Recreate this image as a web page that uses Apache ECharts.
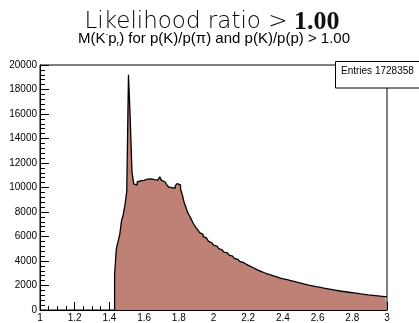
<!DOCTYPE html>
<html>
<head>
<meta charset="utf-8">
<script src="https://cdn.jsdelivr.net/npm/echarts@6/dist/echarts.min.js"></script>
<style>
  html, body { margin: 0; padding: 0; background: #fff; }
  #chart { width: 419px; height: 323px; }
</style>
</head>
<body>
<div id="chart"></div>
<script>
// Histogram binning of the invariant mass M(K-p) in GeV
const binStart = 1.43;
const binWidth = 0.01;
const xMax = 3.0;

// Entries per bin, starting at binStart
const counts = [
  2900, 5000, 5600, 6200, 7300, 7800, 8600, 9700, 19200, 15600,
  11300, 10300, 10200, 10450, 10550, 10650, 10580, 10720, 10680, 10790,
  10700, 10760, 10640, 10720, 10610, 10680, 10880, 10580, 10470, 10320,
  10230, 10060, 9980, 9900, 9960, 10150, 10320, 10210, 9880, 9420,
  8820, 8430, 8010, 7730, 7460, 7160, 6920, 6700, 6530, 6310,
  6170, 5990, 5880, 5740, 5620, 5490, 5420, 5290, 5210, 5090,
  5010, 4910, 4840, 4730, 4670, 4570, 4480, 4390, 4320, 4220,
  4140, 4040, 3970, 3890, 3820, 3730, 3670, 3580, 3530, 3450,
  3390, 3300, 3260, 3180, 3120, 3060, 3020, 2950, 2930, 2860,
  2840, 2770, 2750, 2680, 2660, 2590, 2580, 2520, 2500, 2450,
  2430, 2380, 2360, 2310, 2290, 2240, 2230, 2170, 2160, 2100,
  2090, 2030, 2020, 1970, 1960, 1910, 1910, 1860, 1850, 1800,
  1800, 1750, 1750, 1700, 1700, 1650, 1650, 1600, 1600, 1550,
  1550, 1510, 1510, 1470, 1470, 1430, 1430, 1390, 1390, 1350,
  1350, 1310, 1310, 1280, 1280, 1240, 1250, 1210, 1210, 1180,
  1180, 1150, 1150, 1120, 1130, 1090, 1100
];

const xTicks = { min: 1, max: 3, step: 0.2 };
const yTicks = { min: 0, max: 20000, step: 2000 };

const entries = 1728358;

// Step outline: one point per lower bin edge, closed at the upper range edge
const histPoints = [[binStart, 0]];
counts.forEach((c, i) => {
  histPoints.push([+(binStart + i * binWidth).toFixed(3), c]);
});
histPoints.push([xMax, counts[counts.length - 1]]);

const chart = echarts.init(document.getElementById('chart'), null, { renderer: 'canvas' });

const labelFont = 'Liberation Sans';

chart.setOption({
  animation: false,
  backgroundColor: '#ffffff',
  grid: {
    left: 40, right: 32, top: 65, bottom: 10,
    show: true, borderColor: '#000', borderWidth: 1, backgroundColor: 'transparent'
  },
  xAxis: {
    type: 'value',
    min: xTicks.min, max: xTicks.max, interval: xTicks.step,
    axisLine: { lineStyle: { color: '#000', width: 1 } },
    axisTick: { inside: true, length: 8, lineStyle: { color: '#000' } },
    minorTick: { show: true, splitNumber: 4, length: 4, lineStyle: { color: '#000' } },
    splitLine: { show: false },
    axisLabel: { color: '#000', fontFamily: labelFont, fontSize: 10, margin: 3,
      formatter: v => String(+v.toFixed(1)) }
  },
  yAxis: {
    type: 'value',
    min: yTicks.min, max: yTicks.max, interval: yTicks.step,
    axisLine: { show: true, lineStyle: { color: '#000', width: 1 } },
    axisTick: { show: true, inside: true, length: 9, lineStyle: { color: '#000' } },
    minorTick: { show: true, splitNumber: 5, length: 5, lineStyle: { color: '#000' } },
    splitLine: { show: false },
    axisLabel: { color: '#000', fontFamily: labelFont, fontSize: 10, margin: 3,
      formatter: v => String(v) }
  },
  series: [{
    type: 'line',
    step: 'end',
    data: histPoints,
    symbol: 'none',
    lineStyle: { color: '#000', width: 1.3 },
    areaStyle: { color: '#bf8075', opacity: 1 },
    z: 2
  }],
  graphic: [
    {
      type: 'text', x: 212, y: 22, z: 10,
      style: {
        text: '{a|Likelihood ratio }{b|>}{c| 1.00}',
        align: 'center', verticalAlign: 'middle',
        rich: {
          a: { fontFamily: 'DejaVu Sans', fontWeight: 200, fontSize: 23, fill: '#000' },
          b: { fontFamily: 'DejaVu Sans', fontWeight: 200, fontSize: 23, fill: '#000' },
          c: { fontFamily: 'Liberation Serif', fontWeight: 'bold', fontSize: 26, fill: '#111' }
        }
      }
    },
    {
      type: 'text', x: 214, y: 39, z: 10,
      style: {
        text: '{m|M(K}{sup|-}{m|p}{sub|r}{m|) for p(K)/p(π) and p(K)/p(p) > 1.00}',
        align: 'center', verticalAlign: 'middle',
        rich: {
          m: { fontFamily: labelFont, fontSize: 15, fill: '#000' },
          sup: { fontFamily: labelFont, fontSize: 8, fill: '#000', padding: [0, 0, 10, 0] },
          sub: { fontFamily: labelFont, fontSize: 8, fill: '#000', padding: [10, 0, 0, 0] }
        }
      }
    },
    {
      type: 'rect', z: 20,
      shape: { x: 335.5, y: 61.5, width: 90, height: 26.5 },
      style: { fill: '#fff', stroke: '#000', lineWidth: 1 }
    },
    {
      type: 'text', x: 341, y: 71, z: 21,
      style: {
        text: 'Entries ' + entries,
        fontFamily: labelFont, fontSize: 10, fill: '#000',
        align: 'left', verticalAlign: 'middle'
      }
    }
  ]
});
</script>
</body>
</html>
